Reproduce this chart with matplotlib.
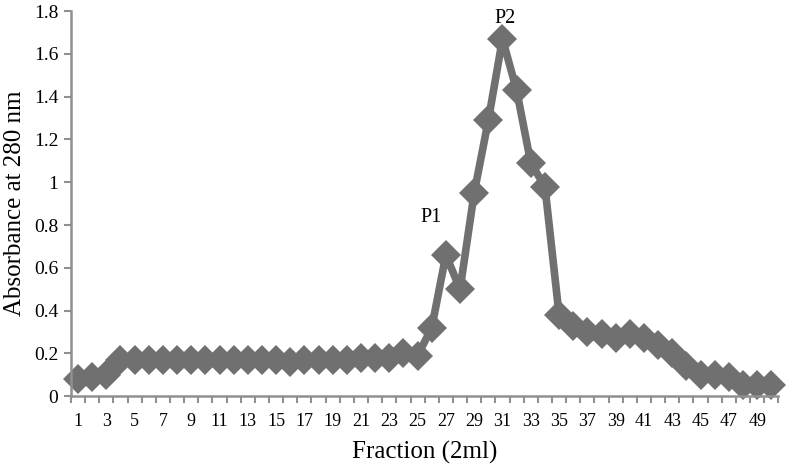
import numpy as np
import matplotlib.pyplot as plt

# absorbance of each 2 ml fraction
fractions = list(range(1, 51))
absorbance = [0.08, 0.09, 0.10, 0.17, 0.17, 0.17, 0.17, 0.17, 0.17, 0.17,
              0.17, 0.17, 0.17, 0.17, 0.17, 0.16, 0.17, 0.17, 0.17, 0.17,
              0.18, 0.18, 0.18, 0.20, 0.19, 0.32, 0.66, 0.50, 0.95, 1.29,
              1.67, 1.43, 1.09, 0.98, 0.38, 0.33, 0.30, 0.29, 0.27, 0.29,
              0.27, 0.24, 0.20, 0.14, 0.10, 0.10, 0.09, 0.05, 0.05, 0.05]
peak_labels = ["P1", "P2"]
peak_fractions = [27, 31]

plt.rcParams['font.family'] = ['Liberation Serif', 'DejaVu Serif']

fig = plt.figure(figsize=(7.86, 4.65), dpi=100)
ax = fig.add_axes([0.0903, 0.148, 0.9, 0.828])

grey = '#707070'
ax.plot(fractions, absorbance, color=grey, lw=5.5, marker='D', ms=15,
        markeredgewidth=0, clip_on=False)

# peak labels, offsets in points
offsets = [(-11, 20), (2, 8)]
for lab, f, off in zip(peak_labels, peak_fractions, offsets):
    y = absorbance[f - 1]
    ax.annotate(lab, (f, y), xytext=off, textcoords='offset points',
                ha='center', va='bottom', fontsize=14.5, annotation_clip=False)

ax.set_xlim(0.5, 50.5)
ax.set_ylim(0, 1.8)
ax.set_yticks(np.arange(0, 1.81, 0.2))
ax.set_yticklabels(['0', '0.2', '0.4', '0.6', '0.8', '1', '1.2', '1.4', '1.6', '1.8'])
ax.set_xticks(fractions[::2])
ax.set_xticks(np.arange(0.5, 51, 1), minor=True)
ax.tick_params(axis='x', which='major', length=0, labelsize=13, pad=12)
ax.tick_params(axis='x', which='minor', length=5, width=1.5, color='#909090')
ax.tick_params(axis='y', length=5, width=1.5, color='#909090', labelsize=14, pad=4)

for s in ['top', 'right']:
    ax.spines[s].set_visible(False)
for s in ['left', 'bottom']:
    ax.spines[s].set_color('#909090')
    ax.spines[s].set_linewidth(1.8)

ax.set_xlabel('Fraction (2ml)', fontsize=18, labelpad=8)
ax.set_ylabel('Absorbance at 280 nm', fontsize=18, labelpad=6)

fig.savefig('out.png', dpi=100)
